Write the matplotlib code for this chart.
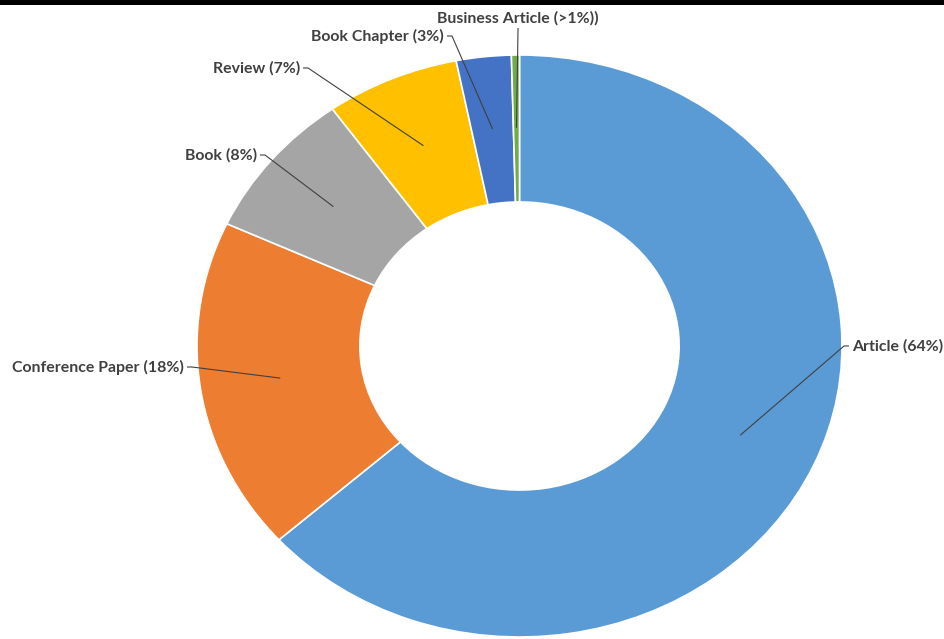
import numpy as np
import matplotlib
matplotlib.use("Agg")
import matplotlib.pyplot as plt
from matplotlib.patches import Rectangle

categories = ["Article", "Conference Paper", "Book", "Review", "Book Chapter", "Business Article"]
values = [63.4, 18.5, 8.25, 6.7, 2.75, 0.4]
labels = ["Article (64%)", "Conference Paper (18%)", "Book (8%)", "Review (7%)",
          "Book Chapter (3%)", "Business Article (>1%))"]
colors = ["#5B9BD5", "#ED7D31", "#A5A5A5", "#FFC000", "#4472C4", "#70AD47"]

W, H = 944, 639
fig = plt.figure(figsize=(W / 100, H / 100), dpi=100)
fig.patch.set_facecolor("white")

# pixel box of the (vertically squashed) donut
cx, cy, rx, ry = 519.5, 346.0, 322.5, 291.0
ax = fig.add_axes([(cx - rx) / W, (H - (cy + ry)) / H, 2 * rx / W, 2 * ry / H])
ax.set_axis_off()

wedges, _ = ax.pie(values, colors=colors, startangle=90, counterclock=False,
                   radius=1.0, wedgeprops=dict(width=0.505, edgecolor="white", linewidth=1.2))
ax.set_aspect("auto")
ax.set_xlim(-1, 1)
ax.set_ylim(-1, 1)
ax.set_clip_on(False)

def px(x, y):
    return (x - cx) / rx, (cy - y) / ry

# label text anchors (pixels) : (x, y, ha)
label_pos = [
    (852, 346, "left"),
    (184, 367, "right"),
    (257, 155, "right"),
    (300, 68, "right"),
    (444, 36, "right"),
    (518, 18, "center"),
]

tcol = "#404040"
total = sum(values)
cum = 0.0
for i, v in enumerate(values):
    mid = (cum + v / 2) / total * 360.0
    cum += v
    r = 0.75
    ex, ey = r * np.sin(np.radians(mid)), r * np.cos(np.radians(mid))
    x, y, ha = label_pos[i]
    tx, ty = px(x, y)
    ax.text(tx, ty, labels[i], ha=ha, va="center", fontsize=11.4, fontweight="bold",
            family="Lato", color=tcol, clip_on=False)
    if ha == "right":
        sx, sy = px(x + 3, y)
        kx, ky = px(x + 8, y)
    elif ha == "left":
        sx, sy = px(x - 3, y)
        kx, ky = px(x - 8, y)
    else:
        sx, sy = px(x, y + 10)
        kx, ky = px(x, y + 12)
    ax.plot([sx, kx, ex], [sy, ky, ey], color=tcol, lw=0.8, clip_on=False,
            solid_capstyle="butt")

# black strip along the top edge
fig.patches.append(Rectangle((0, 1 - 5 / H), 1, 5 / H, transform=fig.transFigure,
                             facecolor="black", edgecolor="none", zorder=10))

fig.savefig("out.png", dpi=100, facecolor="white")
